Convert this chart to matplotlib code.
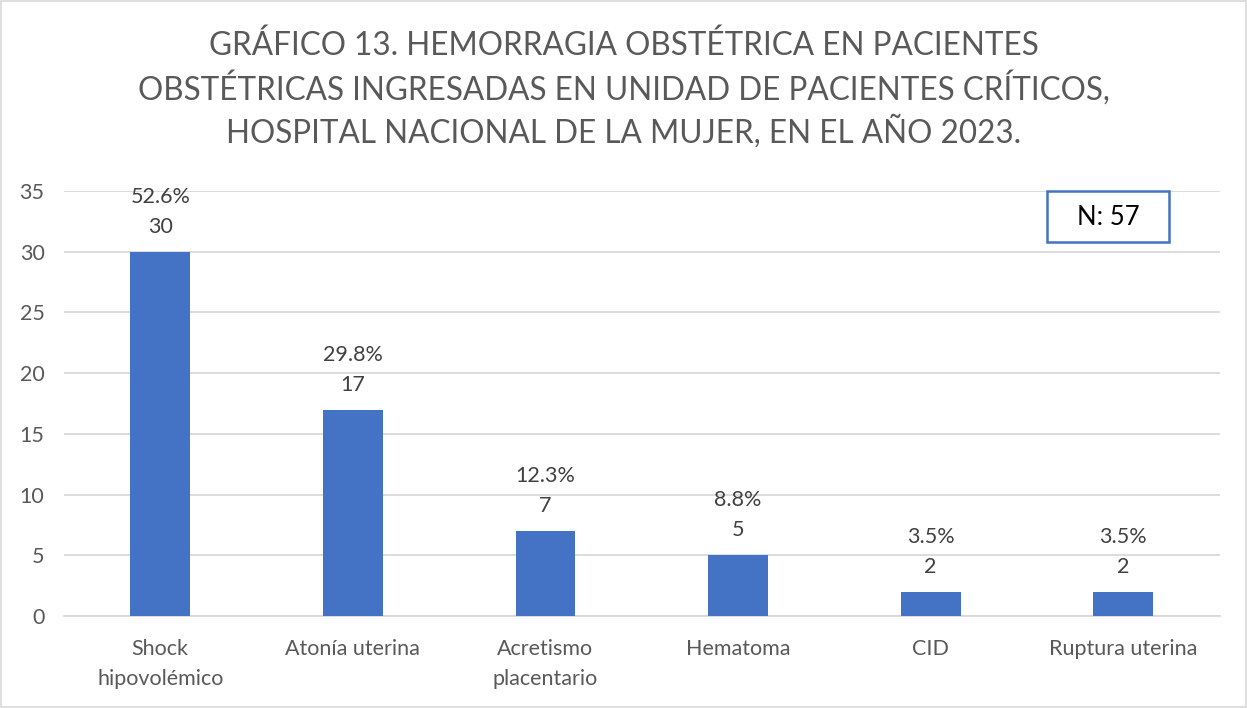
import matplotlib.pyplot as plt
from matplotlib.patches import Rectangle

categorias = ['Shock\nhipovolémico', 'Atonía uterina', 'Acretismo\nplacentario',
              'Hematoma', 'CID', 'Ruptura uterina']
casos = [30, 17, 7, 5, 2, 2]
porcentajes = ['52.6%', '29.8%', '12.3%', '8.8%', '3.5%', '3.5%']
total = 57

titulo = ('GRÁFICO 13. HEMORRAGIA OBSTÉTRICA EN PACIENTES\n'
          'OBSTÉTRICAS INGRESADAS EN UNIDAD DE PACIENTES CRÍTICOS,\n'
          'HOSPITAL NACIONAL DE LA MUJER, EN EL AÑO 2023.')

plt.rcParams['font.family'] = ['Lato', 'DejaVu Sans']

fig = plt.figure(figsize=(12.47, 7.08), dpi=100)
ax = fig.add_axes([0.0513, 0.1299, 0.9267, 0.6004])

x = range(len(categorias))
ax.bar(x, casos, width=0.31, color='#4472C4', zorder=3)

for i, v in enumerate(casos):
    ax.annotate(str(v), (i, v), xytext=(0, 18), textcoords='offset points',
                ha='center', va='center', fontsize=15.5, color='#404040')
    ax.annotate(porcentajes[i], (i, v), xytext=(0, 39.6), textcoords='offset points',
                ha='center', va='center', fontsize=15.5, color='#404040')

ax.set_xlim(-0.5, len(categorias) - 0.5)
ax.set_ylim(0, 35)
ax.set_yticks(range(0, 36, 5))
ax.set_xticks(list(x))
ax.set_xticklabels(categorias, linespacing=1.62)
ax.tick_params(axis='both', length=0, labelsize=15.5, labelcolor='#595959')
ax.tick_params(axis='x', pad=16.5)
ax.tick_params(axis='y', pad=14)
ax.grid(axis='y', color='#d9d9d9', linewidth=1.3, zorder=0)
for s in ['top', 'right', 'left']:
    ax.spines[s].set_visible(False)
ax.spines['bottom'].set_color('#d9d9d9')
ax.spines['bottom'].set_linewidth(1.3)

fig.text(0.5, 0.874, titulo, ha='center', va='center', fontsize=22.7,
         color='#595959', linespacing=1.33)

fig.add_artist(Rectangle((0.8396, 0.658), 0.0978, 0.072, transform=fig.transFigure,
                         facecolor='white', edgecolor='#4472C4', linewidth=1.8, zorder=5))
fig.text(0.8886, 0.6935, 'N: %d' % total, ha='center', va='center',
         fontsize=18.5, color='black', zorder=6)

fig.add_artist(Rectangle((0.0005, 0.002), 0.999, 0.997, transform=fig.transFigure,
                         facecolor='none', edgecolor='#d9d9d9', linewidth=1.2))

plt.savefig('out.png', dpi=100)
